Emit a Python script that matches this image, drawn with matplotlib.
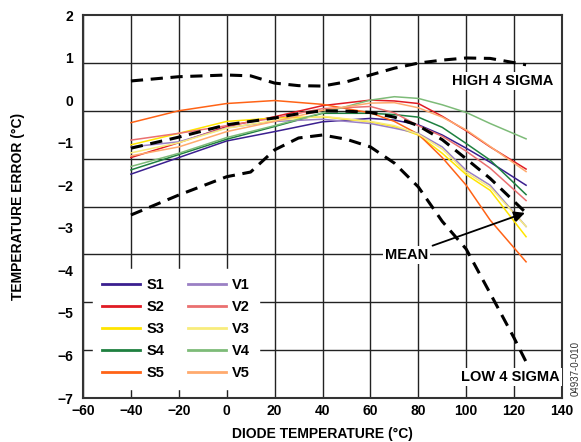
import matplotlib
matplotlib.use('Agg')
from matplotlib import pyplot as plt

plt.rcParams['font.family'] = ['Liberation Sans', 'DejaVu Sans']
plt.rcParams['font.weight'] = 'bold'

# diode temperature (C) for the ten device curves
temps = [-40, -20, 0, 20, 40, 60, 70, 80, 90, 100, 110, 125]

s1 = [-1.74, -1.35, -0.96, -0.74, -0.51, -0.43, -0.47, -0.58, -0.82, -1.13, -1.46, -2.00]
s2 = [-1.35, -1.00, -0.62, -0.39, -0.13, 0.00, -0.02, -0.08, -0.38, -0.72, -1.10, -1.62]
s3 = [-1.05, -0.78, -0.50, -0.42, -0.39, -0.51, -0.62, -0.82, -1.25, -1.75, -2.12, -3.21]
s4 = [-1.64, -1.28, -0.92, -0.62, -0.31, -0.31, -0.34, -0.40, -0.64, -1.02, -1.41, -2.22]
s5 = [-0.53, -0.25, -0.08, -0.01, -0.10, -0.30, -0.50, -0.80, -1.35, -2.00, -2.82, -3.80]
v1 = [-1.10, -0.98, -0.65, -0.50, -0.45, -0.55, -0.66, -0.78, -1.10, -1.65, -2.00, -2.97]
v2 = [-0.94, -0.78, -0.60, -0.42, -0.20, -0.15, -0.30, -0.60, -0.85, -1.20, -1.60, -2.36]
v3 = [-1.24, -1.00, -0.66, -0.48, -0.38, -0.50, -0.60, -0.80, -1.15, -1.70, -2.05, -2.97]
v4 = [-1.56, -1.25, -0.88, -0.60, -0.30, 0.00, 0.08, 0.04, -0.11, -0.29, -0.55, -0.91]
v5 = [-1.31, -1.10, -0.74, -0.50, -0.24, -0.07, -0.06, -0.18, -0.40, -0.70, -1.09, -1.68]

# 4 sigma bounds and mean
sig_temps = [-40, -20, 0, 10, 20, 30, 40, 50, 60, 70, 80, 90, 100, 110, 120, 125]
high = [0.45, 0.55, 0.59, 0.57, 0.40, 0.34, 0.33, 0.43, 0.59, 0.75, 0.87, 0.94, 0.99, 0.98, 0.88, 0.83]
mean = [-1.13, -0.87, -0.58, -0.50, -0.42, -0.32, -0.25, -0.26, -0.29, -0.40, -0.60, -0.93, -1.38, -1.84, -2.38, -2.65]
low = [-2.70, -2.23, -1.80, -1.69, -1.17, -0.89, -0.82, -0.92, -1.10, -1.48, -2.04, -2.85, -3.50, -4.54, -5.59, -6.15]

# legend fills column by column: S in the first column, V in the second
names = ['S1', 'S2', 'S3', 'S4', 'S5', 'V1', 'V2', 'V3', 'V4', 'V5']
series = [s1, s2, s3, s4, s5, v1, v2, v3, v4, v5]
colors = ['#3a1f8f', '#e01b24', '#ffe500', '#1e8040', '#ff6316',
          '#9a80c4', '#ea7070', '#f8ec7c', '#7dbb78', '#ffaa6e']

fig = plt.figure(figsize=(5.81, 4.42), dpi=100)
ax = fig.add_axes([83 / 581, 44 / 442, 479 / 581, 383 / 442])

for name, vals, col in zip(names, series, colors):
    ax.plot(temps, vals, color=col, lw=1.1, label=name, zorder=3)

for vals in (high, mean, low):
    ax.plot(sig_temps, vals, color='black', lw=2.2, dashes=(4, 2.5), zorder=4)

ax.set_xlim(-60, 140)
ax.set_ylim(-7, 2)
ax.set_xticks(range(-60, 141, 20))
ax.set_yticks(range(-7, 3))
# the grid in the original has 8 rows, not matching the 9 labelled units
ax.set_yticks([2 - k * 9 / 8 for k in range(1, 8)], minor=True)
ax.grid(which='major', axis='x', color='#222222', lw=1.0)
ax.grid(which='minor', axis='y', color='#222222', lw=1.0)
ax.tick_params(which='both', length=0)
ax.tick_params(axis='y', pad=7, labelsize=10)
ax.tick_params(axis='x', pad=4, labelsize=10)
for sp in ax.spines.values():
    sp.set_linewidth(1.5)
    sp.set_color('#333333')

ax.set_xlabel('DIODE TEMPERATURE (°C)', fontsize=10, fontweight='bold', labelpad=7)
ax.set_ylabel('TEMPERATURE ERROR (°C)', fontsize=10, fontweight='bold', labelpad=23)

box = dict(facecolor='white', edgecolor='none', pad=1.5)
ax.text(136.3, 0.45, 'HIGH 4 SIGMA', ha='right', va='center', fontsize=10.5,
        fontweight='bold', bbox=box, zorder=5)
ax.text(139.0, -6.5, 'LOW 4 SIGMA', ha='right', va='center', fontsize=10.5,
        fontweight='bold', bbox=box, zorder=5)
ax.annotate('MEAN', xy=(124.5, -2.65), xytext=(84.0, -3.64), ha='right', va='center',
            fontsize=10.5, fontweight='bold', bbox=box, zorder=5,
            arrowprops=dict(arrowstyle='-|>', color='black', lw=1.3,
                            mutation_scale=16, shrinkA=2, shrinkB=0))

leg = ax.legend(ncol=2, loc='lower left', bbox_to_anchor=(0.021, 0.0235),
                borderaxespad=0, frameon=True, fancybox=False, framealpha=1,
                facecolor='white', edgecolor='white', fontsize=10.5,
                handlelength=2.6, handletextpad=0.45, columnspacing=1.6,
                labelspacing=0.55, borderpad=0.6)
for line in leg.get_lines():
    line.set_linewidth(2.0)

fig.text(0.99, 0.167, '04937-0-010', rotation=90, ha='center', va='center',
         fontsize=7, fontweight='normal', color='#333333')

fig.savefig('out.png', dpi=100)
